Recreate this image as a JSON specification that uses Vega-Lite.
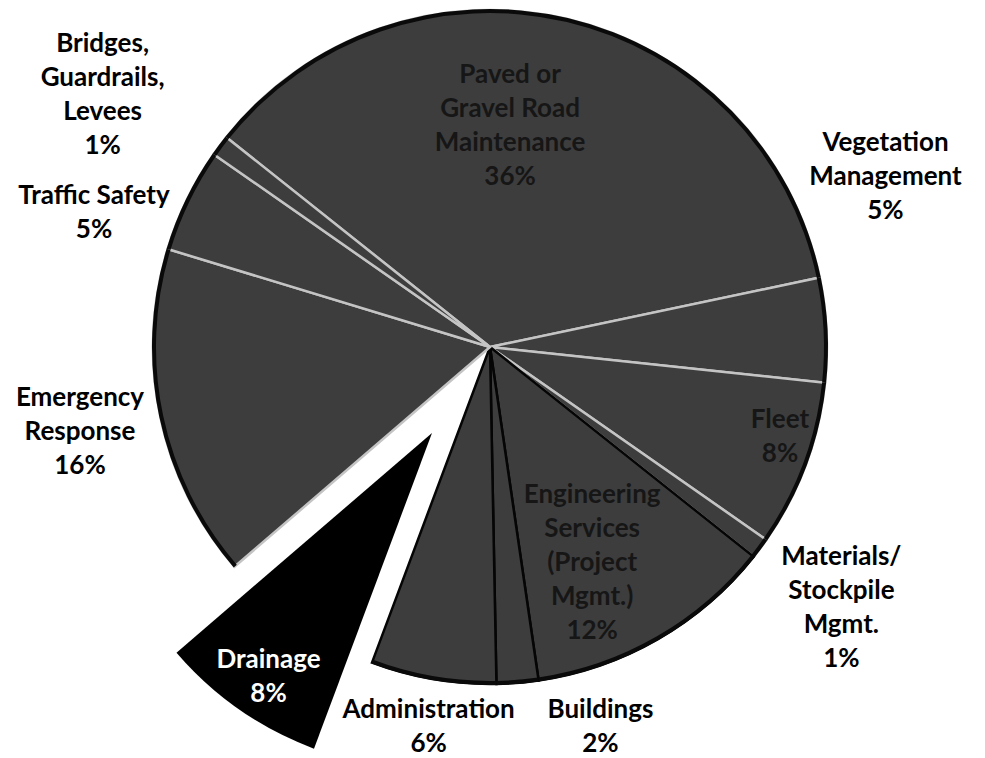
{
  "$schema": "https://vega.github.io/schema/vega-lite/v6.json",
  "width": 980,
  "height": 694,
  "autosize": {"type": "none"},
  "padding": {"left": 0, "right": 5, "top": 0, "bottom": 64},
  "background": "white",
  "view": {"stroke": null},
  "config": {"text": {"font": "Lato", "fontWeight": "bold", "fontSize": 26, "lineBreak": "\n", "lineHeight": 34, "align": "center", "baseline": "middle"}},
  "data": {"values": [
    {"idx": 1, "category": "Paved or Gravel Road Maintenance", "pct": 36, "label": "Paved or\nGravel Road\nMaintenance\n36%"},
    {"idx": 2, "category": "Vegetation Management", "pct": 5, "label": "Vegetation\nManagement\n5%"},
    {"idx": 3, "category": "Fleet", "pct": 8, "label": "Fleet\n8%"},
    {"idx": 4, "category": "Materials/Stockpile Mgmt.", "pct": 1, "label": "Materials/\nStockpile\nMgmt.\n1%"},
    {"idx": 5, "category": "Engineering Services (Project Mgmt.)", "pct": 12, "label": "Engineering\nServices\n(Project\nMgmt.)\n12%"},
    {"idx": 6, "category": "Buildings", "pct": 2, "label": "Buildings\n2%"},
    {"idx": 7, "category": "Administration", "pct": 6, "label": "Administration\n6%"},
    {"idx": 8, "category": "Drainage", "pct": 8, "label": "Drainage\n8%"},
    {"idx": 9, "category": "Emergency Response", "pct": 16, "label": "Emergency\nResponse\n16%"},
    {"idx": 10, "category": "Traffic Safety", "pct": 5, "label": "Traffic Safety\n5%"},
    {"idx": 11, "category": "Bridges, Guardrails, Levees", "pct": 1, "label": "Bridges,\nGuardrails,\nLevees\n1%"}
  ]},
  "encoding": {
    "theta": {"field": "pct", "type": "quantitative", "stack": true, "scale": {"range": [-0.8988, 5.3844]}},
    "order": {"field": "idx", "type": "quantitative", "sort": "ascending"},
    "detail": {"field": "category", "type": "nominal"}
  },
  "layer": [
    {
      "mark": {"type": "arc", "outerRadius": 337, "fill": "#3d3d3d", "strokeWidth": 2.5},
      "encoding": {
        "stroke": {"condition": {"test": "indexof(['Engineering Services (Project Mgmt.)','Buildings','Administration'], datum.category) >= 0", "value": "#050505"}, "value": "#c4c4c4"},
        "opacity": {"condition": {"test": "datum.category === 'Drainage'", "value": 0}, "value": 1}
      }
    },
    {
      "mark": {"type": "arc", "outerRadius": 338, "innerRadius": 334, "fill": "#0a0a0a"},
      "encoding": {
        "opacity": {"condition": {"test": "datum.category === 'Drainage'", "value": 0}, "value": 1}
      }
    },
    {
      "mark": {"type": "arc", "outerRadius": 337, "fill": "#000000", "xOffset": -58, "yOffset": 86},
      "encoding": {
        "opacity": {"condition": {"test": "datum.category === 'Drainage'", "value": 1}, "value": 0}
      }
    },
    {
      "mark": {"type": "text", "radius": 222, "dx": -31, "dy": -56, "color": "#161616"},
      "encoding": {"text": {"condition": {"test": "datum.category === 'Paved or Gravel Road Maintenance'", "field": "label", "type": "nominal"}, "value": ""}}
    },
    {
      "mark": {"type": "text", "radius": 417, "dx": -21, "dy": -183, "color": "#000000"},
      "encoding": {"text": {"condition": {"test": "datum.category === 'Vegetation Management'", "field": "label", "type": "nominal"}, "value": ""}}
    },
    {
      "mark": {"type": "text", "radius": 300, "dx": 9, "dy": -32, "color": "#161616"},
      "encoding": {"text": {"condition": {"test": "datum.category === 'Fleet'", "field": "label", "type": "nominal"}, "value": ""}}
    },
    {
      "mark": {"type": "text", "radius": 447, "dx": -7, "dy": -57, "color": "#000000"},
      "encoding": {"text": {"condition": {"test": "datum.category === 'Materials/Stockpile Mgmt.'", "field": "label", "type": "nominal"}, "value": ""}}
    },
    {
      "mark": {"type": "text", "radius": 233, "dx": -14, "dy": -54, "color": "#161616"},
      "encoding": {"text": {"condition": {"test": "datum.category === 'Engineering Services (Project Mgmt.)'", "field": "label", "type": "nominal"}, "value": ""}}
    },
    {
      "mark": {"type": "text", "radius": 384, "dx": 79, "dy": -20, "color": "#000000"},
      "encoding": {"text": {"condition": {"test": "datum.category === 'Buildings'", "field": "label", "type": "nominal"}, "value": ""}}
    },
    {
      "mark": {"type": "text", "radius": 376, "dx": 2, "dy": -8, "color": "#000000"},
      "encoding": {"text": {"condition": {"test": "datum.category === 'Administration'", "field": "label", "type": "nominal"}, "value": ""}}
    },
    {
      "mark": {"type": "text", "radius": 298, "dx": -51, "dy": 69, "color": "#ffffff"},
      "encoding": {"text": {"condition": {"test": "datum.category === 'Drainage'", "field": "label", "type": "nominal"}, "value": ""}}
    },
    {
      "mark": {"type": "text", "radius": 419, "dx": 0, "dy": -35, "color": "#000000"},
      "encoding": {"text": {"condition": {"test": "datum.category === 'Emergency Response'", "field": "label", "type": "nominal"}, "value": ""}}
    },
    {
      "mark": {"type": "text", "radius": 418, "dx": -20, "dy": 32, "color": "#000000"},
      "encoding": {"text": {"condition": {"test": "datum.category === 'Traffic Safety'", "field": "label", "type": "nominal"}, "value": ""}}
    },
    {
      "mark": {"type": "text", "radius": 462, "dx": -17, "dy": -27, "color": "#000000"},
      "encoding": {"text": {"condition": {"test": "datum.category === 'Bridges, Guardrails, Levees'", "field": "label", "type": "nominal"}, "value": ""}}
    }
  ]
}
